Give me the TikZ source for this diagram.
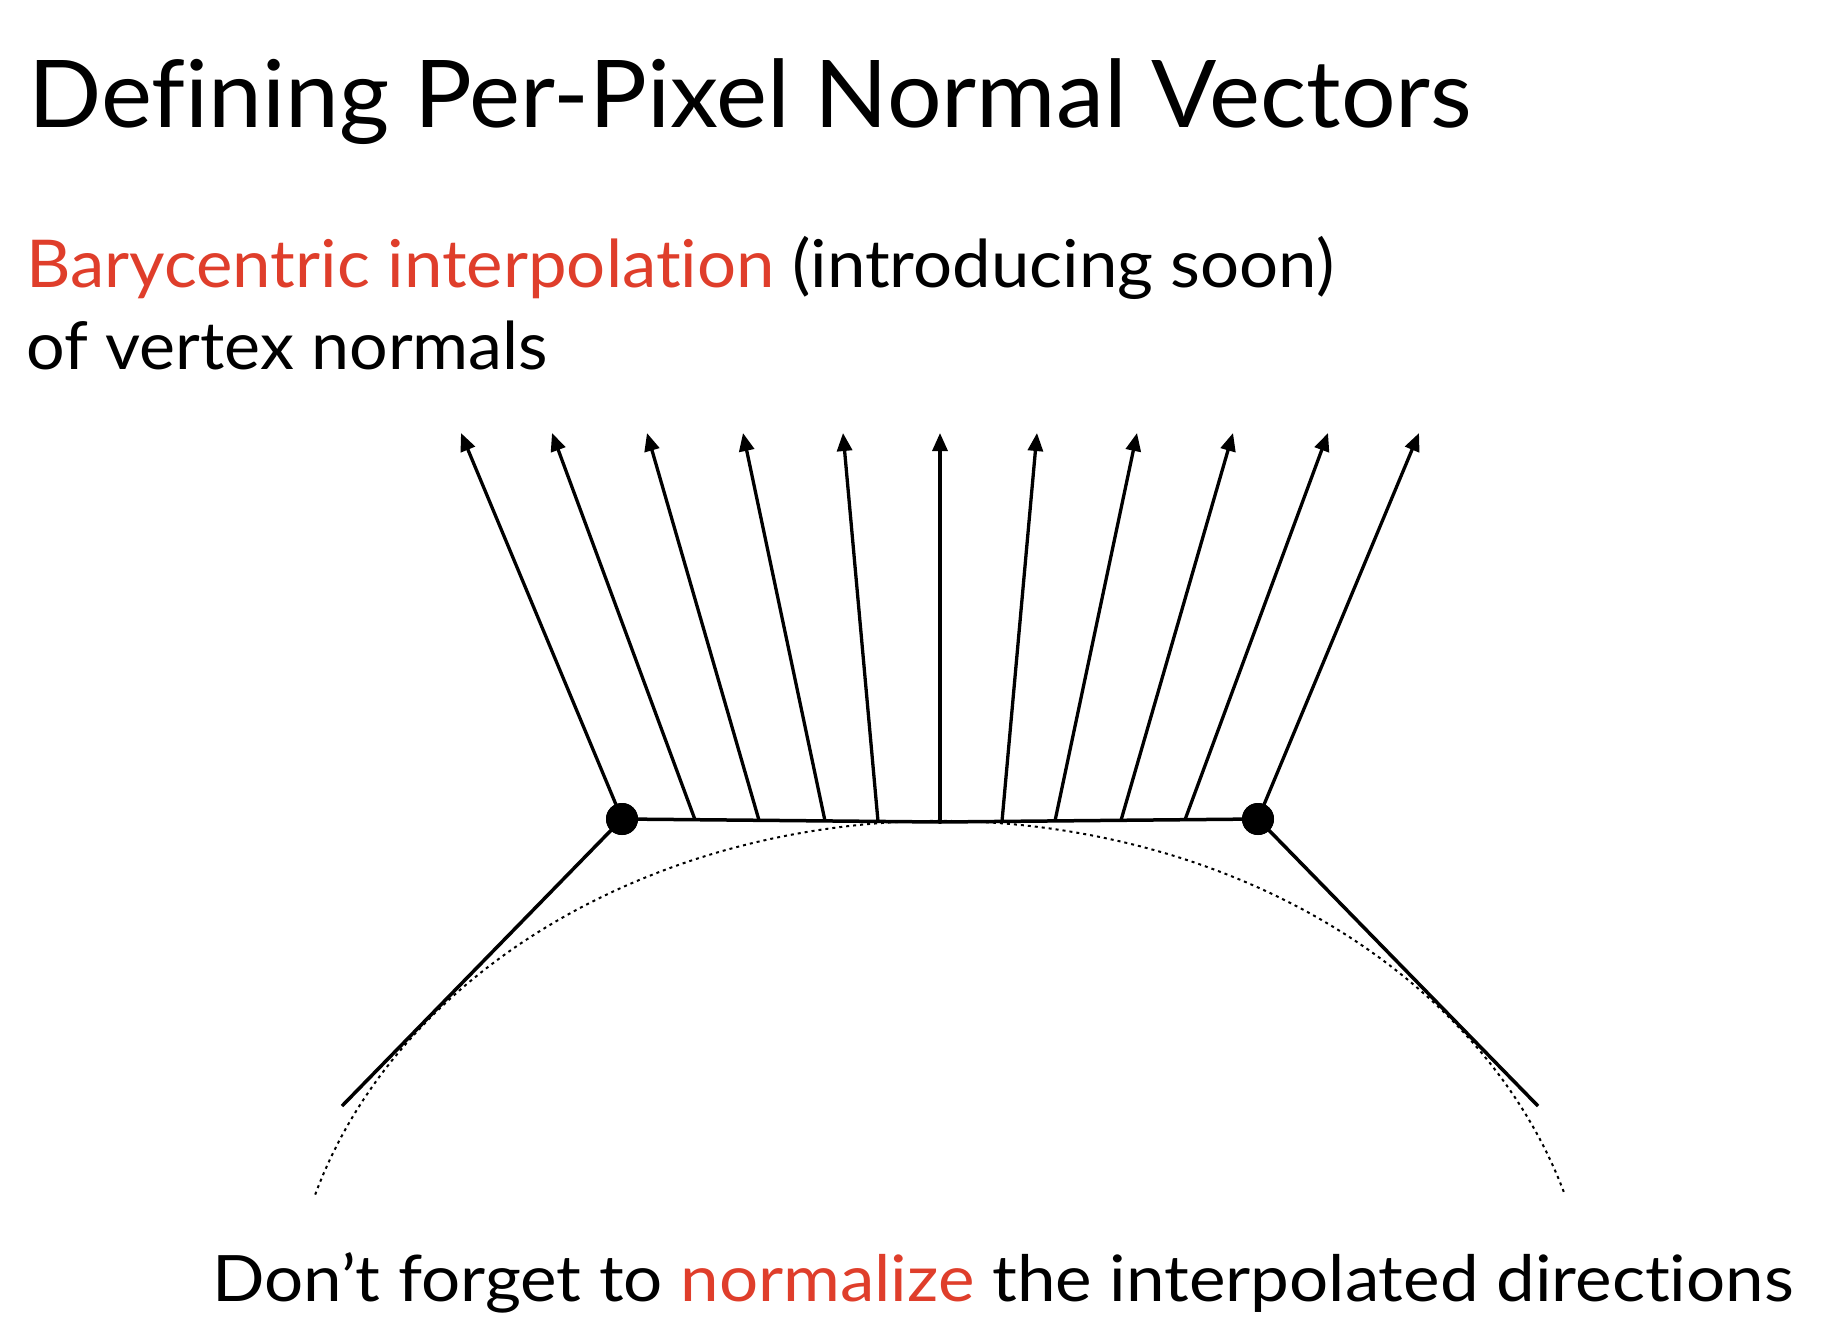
\documentclass[tikz,border=0pt]{standalone}
\usepackage{fontspec}
\setmainfont{Lato}[Ligatures=NoCommon]
\usetikzlibrary{arrows.meta}
\definecolor{accent}{RGB}{223,62,43}
\begin{document}
\begin{tikzpicture}[x=1pt,y=1pt,
  vec/.style={line width=3.3pt,-{Triangle[length=18pt,width=15pt]}},
  edge/.style={line width=3.5pt},
  vtx/.style={circle,fill=black,inner sep=0pt,minimum size=32pt},
  guide/.style={line width=2pt,dash pattern=on 3pt off 4pt},
  txt/.style={anchor=base west,inner sep=0pt}]
\useasboundingbox (0,0) rectangle (1842,-1318);
% texts
\node[txt,font=\fontsize{93.5}{112}\selectfont] (title) at (28,-127) {\scalebox{1.032}[1]{Defining Per-Pixel Normal Vectors}};
\node[txt,font=\fontsize{66}{80}\selectfont] (l2) at (26,-287.3) {\scalebox{1.044}[1]{\textcolor{accent}{Barycentric interpolation} (introducing soon)}};
\node[txt,font=\fontsize{66}{80}\selectfont] (l3) at (26,-369.3) {\scalebox{1.032}[1]{of vertex normals}};
\node[txt,font=\fontsize{64}{78}\selectfont] (l4) at (212,-1301.7) {\scalebox{1.08}[1]{Don’t forget to \textcolor{accent}{normalize} the interpolated directions}};
% dotted surface
\draw[guide] (315.2,-1194.6) arc[start angle=163.4,end angle=16.6,x radius=652,y radius=523];
% coordinates
\coordinate (eL) at (342,-1106);
\coordinate (eR) at (1538,-1106);
\coordinate (b1) at (695,-819.7);
\coordinate (b2) at (759,-820.3);
\coordinate (b3) at (825,-820.9);
\coordinate (b4) at (878,-821.4);
\coordinate (b5) at (940,-822);
\coordinate (b6) at (1002,-821.4);
\coordinate (b7) at (1055,-820.9);
\coordinate (b8) at (1121,-820.3);
\coordinate (b9) at (1185,-819.7);
\coordinate (t0) at (461,-433);
\coordinate (t1) at (552,-433);
\coordinate (t2) at (647,-433);
\coordinate (t3) at (743,-433);
\coordinate (t4) at (843,-433);
\coordinate (t5) at (940,-433);
\coordinate (t6) at (1037,-433);
\coordinate (t7) at (1137,-433);
\coordinate (t8) at (1233,-433);
\coordinate (t9) at (1328,-433);
\coordinate (t10) at (1419,-433);
\node[vtx] (vL) at (622,-819) {};
\node[vtx] (vR) at (1258,-819) {};
% polygon edges
\draw[edge] (eL) -- (vL.center) -- (b5) -- (vR.center) -- (eR);
% normals
\draw[vec] (vL.center) -- (t0);
\draw[vec] (b1) -- (t1);
\draw[vec] (b2) -- (t2);
\draw[vec] (b3) -- (t3);
\draw[vec] (b4) -- (t4);
\draw[vec] (b5) -- (t5);
\draw[vec] (b6) -- (t6);
\draw[vec] (b7) -- (t7);
\draw[vec] (b8) -- (t8);
\draw[vec] (b9) -- (t9);
\draw[vec] (vR.center) -- (t10);
% vertices on top
\fill (vL) circle[radius=16];
\fill (vR) circle[radius=16];
\end{tikzpicture}
\end{document}
